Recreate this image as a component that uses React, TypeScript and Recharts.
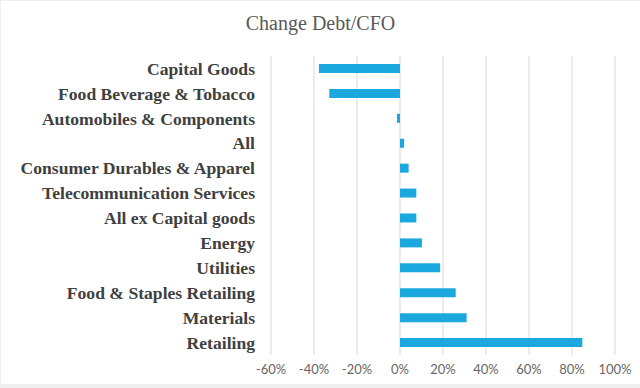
import React from "react";
import { BarChart, Bar, XAxis, YAxis, CartesianGrid } from "recharts";

const categories = [
  "Capital Goods",
  "Food Beverage & Tobacco",
  "Automobiles & Components",
  "All",
  "Consumer Durables & Apparel",
  "Telecommunication Services",
  "All ex Capital goods",
  "Energy",
  "Utilities",
  "Food & Staples Retailing",
  "Materials",
  "Retailing",
];

const changeValues = [-0.377, -0.329, -0.014, 0.019, 0.04, 0.076, 0.076, 0.102, 0.187, 0.259, 0.31, 0.848];

const xTicks = [-0.6, -0.4, -0.2, 0, 0.2, 0.4, 0.6, 0.8, 1.0];

const chartData = categories.map((name, i) => ({ name, value: changeValues[i] }));

const fmtPct = (v: number) => `${Math.round(v * 100)}%`;

export default function App() {
  return (
    <div style={{ position: "absolute", left: 0, top: 0, width: 640, height: 388, background: "#efefef" }}>
      <div style={{ position: "absolute", left: 1, top: 1, width: 639, height: 383, background: "#fff" }}>
        <div
          style={{
            position: "absolute",
            top: 11,
            left: 0,
            width: 639,
            textAlign: "center",
            fontFamily: "'Liberation Serif', serif",
            fontSize: 20,
            color: "#595959",
          }}
        >
          Change Debt/CFO
        </div>
        <BarChart
          width={639}
          height={383}
          data={chartData}
          layout="vertical"
          barCategoryGap="32%"
          margin={{ top: 55, right: 25, bottom: 0, left: 0 }}
        >
          <CartesianGrid horizontal={false} stroke="#d9d9d9" />
          <XAxis
            type="number"
            domain={[-0.6, 1.0]}
            ticks={xTicks}
            tickFormatter={fmtPct}
            axisLine={false}
            tickLine={false}
            tickSize={0}
            tickMargin={10}
            height={29}
            interval={0}
            tick={{ fill: "#666", fontSize: 13, fontFamily: "Lato, sans-serif" }}
          />
          <YAxis
            type="category"
            dataKey="name"
            width={270}
            axisLine={false}
            tickLine={false}
            tickSize={0}
            tickMargin={16}
            interval={0}
            tick={{ fill: "#404040", fontSize: 17.6, fontWeight: "bold", fontFamily: "'Liberation Serif', serif" }}
          />
          <Bar dataKey="value" fill="#1ba8df" isAnimationActive={false} />
        </BarChart>
      </div>
    </div>
  );
}
